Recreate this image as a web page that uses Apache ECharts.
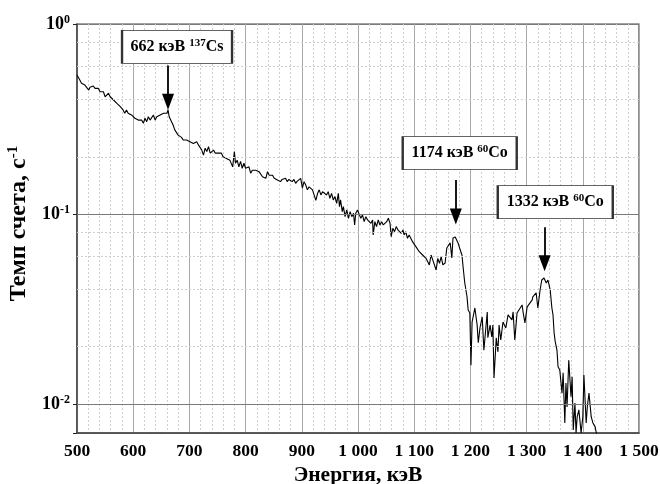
<!DOCTYPE html>
<html><head><meta charset="utf-8">
<script src="https://cdn.jsdelivr.net/npm/echarts@6/dist/echarts.min.js"></script>
<style>html,body{margin:0;padding:0;background:#fff}#c{width:660px;height:484px}</style>
</head><body><div id="c"></div>
<script>
// Energy, keV
const energy = [500,505,508,511,514,517,521,523,526,529,532,535,538,541,544,547,550,553,556,559,562,565,568,571,574,577,579,582,585,588,591,594,597,600,
603,606,609,612,615,618,621,624,627,630,633,636,639,642,645,648,651,654,657,660,662,664,667,671,674,677,680,683,686,689,692,695,698,701,704,707,
710,713,716,719,722,725,728,731,734,737,740,743,746,749,752,754,757,760,763,766,769,772,775,777,780,782,785,788,791,794,797,800,803,806,809,812,815,
818,821,824,827,830,833,836,839,842,845,848,851,853.5,856.5,859,862,865,868,871,874,877,880,883,886,889,892,895,898,901,904,907,910,913,916,919,922,
925,928,931,934,937,940,
944,947,950,953,956,959,962,965,967,969,972,974,977,980,983,986,989,992,994,996,999,1002,1005,1008,1011,1014,1017,1020,1023,1026,1027,1030,1033,1036,
1039,1042,1045,1048,1051,1054,1057,1059,1062,1065,1068,1071,1074,1077,1080,1082,1085,1088,1091,1094,1097,1100,1103,1106,1109,1112,1115,1118,1121,1124,
1127,1130,1133,1136,1139,1142,1145,1148,1151,1155,
1158,1164,1167,1169,1173,1178,1182,1185,1187,1190,1194,1196,1199,1201,1203,1208,1212,1214,1217,1221,1224,1230,1231,1235,
1238,1240,1242,1246,1249,1251,1254,1258,1263,1267,1270,1274,1276,1279,1283,1286,1292,1294,1297,1301,1304,1310,1311,1317,
1320,1324,1327,1331,1335,1338,1342,1345,1347,1349,1351,1354,1356,1359,1363,1365,1368,1370,1372,1375,1379,1381,1383,1386,
1388,1390,1393,1397,1400,1402,1406,1408,1411,1415,1418,1422,1425];
// Count rate, 1/s
const rate = [0.539,0.507,0.487,0.497,0.477,0.483,0.449,0.464,0.458,0.472,0.458,0.449,0.458,0.440,0.432,0.440,0.414,0.423,0.432,0.414,0.423,0.398,0.406,0.382,0.390,0.367,0.375,0.353,0.339,0.353,0.339,0.346,0.332,0.339,
0.319,0.325,0.312,0.319,0.312,0.300,0.319,0.306,0.325,0.312,0.319,0.332,0.312,0.325,0.319,0.332,0.325,0.339,0.332,0.339,0.353,0.325,0.319,0.294,0.277,0.271,0.260,0.255,0.253,0.245,0.250,0.245,0.247,0.240,0.245,0.235,
0.235,0.240,0.231,0.235,0.217,0.204,0.222,0.213,0.226,0.209,0.213,0.217,0.209,0.213,0.209,0.204,0.209,0.200,0.204,0.196,0.200,0.192,0.196,0.177,0.213,0.185,0.192,0.177,0.189,0.174,0.185,0.174,0.170,0.177,0.164,0.170,0.167,
0.170,0.172,0.167,0.164,0.157,0.160,0.154,0.167,0.160,0.157,0.160,0.154,0.157,0.151,0.154,0.148,0.152,0.151,0.154,0.148,0.152,0.150,0.148,0.152,0.145,0.149,0.146,0.154,0.137,0.148,0.142,0.134,0.139,0.137,0.134,0.131,
0.118,0.128,0.134,0.126,0.131,0.134,
0.1259,0.1311,0.1209,0.1284,0.1185,0.1234,0.1138,0.1284,0.1093,0.1185,0.1029,0.1093,0.0968,0.1050,0.0949,0.1029,0.0968,0.1008,0.0875,0.1008,0.1050,0.1029,0.0949,0.0988,0.0911,0.0968,0.0930,0.0949,0.0893,0.0930,0.0775,0.0911,0.0858,0.0930,
0.0875,0.0911,0.0875,0.0893,0.0911,0.0949,0.0893,0.0760,0.0841,0.0807,0.0858,0.0824,0.0841,0.0791,0.0824,0.0775,0.0807,0.0745,0.0775,0.0760,0.0715,0.0730,0.0673,0.0687,0.0633,0.0646,0.0608,0.0621,0.0584,0.0596,
0.0539,0.0608,0.0573,0.0584,0.0507,0.0584,0.0550,0.0596,0.0539,0.0552,
0.0662,0.0704,0.0587,0.0747,0.0757,0.0704,0.0646,0.0608,0.0526,0.0433,0.0366,0.0312,0.0301,0.0160,0.0270,0.0320,0.0260,0.0210,0.0251,0.0287,0.0192,0.0305,0.0223,0.0260,
0.0225,0.0260,0.0137,0.0223,0.0188,0.0260,0.0217,0.0270,0.0251,0.0294,0.0301,0.0277,0.0305,0.0217,0.0301,0.0305,0.0332,0.0301,0.0267,0.0324,0.0324,0.0353,0.0366,0.0384,
0.0320,0.0398,0.0449,0.0460,0.0433,0.0449,0.0398,0.0320,0.0294,0.0236,0.0212,0.0192,0.0157,0.0151,0.0114,0.0146,0.00794,0.0129,0.00964,0.0170,0.0109,0.0139,0.00730,0.0101,
0.00704,0.00854,0.00930,0.00704,0.00854,0.0142,0.00794,0.00964,0.0114,0.00854,0.00794,0.00757,0.0068];

const xTickValues = [500,600,700,800,900,1000,1100,1200,1300,1400,1500];
const yMajorGrid = [0.01,0.1];
const yMinorGrid = [0.008,0.02,0.04,0.06,0.08,0.2,0.4,0.6,0.8];
// Peak annotations
const peakEnergy = [662,1174,1332];
const peakText = ['662 кэВ','1174 кэВ','1332 кэВ'];
const peakMass = ['137','60','60'];
const peakElem = ['Cs','Co','Co'];

// Layout of annotations (data coordinates)
const boxPos = [[678,0.757],[1181,0.209],[1351,0.1155]];
const boxSize = [[110,33],[114,33],[115,33]];
const arrowFrom = [0.605,0.151,0.085];
const arrowTo = [0.39,0.097,0.055];

const serif = '"Liberation Serif","Times New Roman",serif';
const data = energy.map((e,i)=>[e,rate[i]]);

const chart = echarts.init(document.getElementById('c'));
chart.setOption({
  animation:false,
  backgroundColor:'#fff',
  grid:{left:77,right:21,top:24,bottom:51,containLabel:false,outerBoundsMode:'none',show:true,borderColor:'#444',borderWidth:1.2,backgroundColor:'transparent'},
  xAxis:{
    type:'value',min:500,max:1500,interval:100,
    axisLine:{show:true,lineStyle:{color:'#444',width:1.5}},
    axisTick:{show:false},
    axisLabel:{margin:9,color:'#000',fontFamily:serif,fontWeight:'bold',fontSize:17.5,
      formatter:v=> xTickValues.indexOf(v)<0 ? '' : (v>=1000 ? Math.floor(v/1000)+' '+String(v%1000).padStart(3,'0') : String(v))},
    splitLine:{show:true,lineStyle:{color:'#a8a8a8',width:1}},
    minorTick:{show:false,splitNumber:5},
    minorSplitLine:{show:true,lineStyle:{color:'#cfcfcf',width:1,type:[2,2]}},
    name:'Энергия, кэВ',nameLocation:'middle',nameGap:27,
    nameTextStyle:{color:'#000',fontFamily:serif,fontWeight:'bold',fontSize:21.5}
  },
  yAxis:{
    type:'log',logBase:10,min:0.00703,max:1,
    axisLine:{show:true,lineStyle:{color:'#444',width:1.5}},
    axisTick:{show:true,inside:false,length:4,lineStyle:{color:'#222'}},
    axisLabel:{margin:7,color:'#000',
      formatter:v=>{const l=Math.log10(v);const r=Math.round(l);if(Math.abs(l-r)>1e-6)return '';return '{b|10}{s|'+(r===0?'0':String(r))+'}';},
      rich:{b:{fontFamily:serif,fontWeight:'bold',fontSize:18,color:'#000',lineHeight:21},
            s:{fontFamily:serif,fontWeight:'bold',fontSize:12,color:'#000',verticalAlign:'top',lineHeight:12}}},
    splitLine:{show:true,lineStyle:{color:'#7a7a7a',width:1}},
    name:'{n|Темп счета, с}{s|-1}',nameLocation:'middle',nameGap:43,
    nameTextStyle:{padding:[0,0,0,10],rich:{n:{fontFamily:serif,fontWeight:'bold',fontSize:24,color:'#000',lineHeight:26},
      s:{fontFamily:serif,fontWeight:'bold',fontSize:15,color:'#000',verticalAlign:'top',lineHeight:14}}}
  },
  series:[
    {type:'line',data:[],z:1,silent:true,
     markLine:{silent:true,symbol:['none','none'],animation:false,label:{show:false},
       lineStyle:{color:'#cfcfcf',width:1,type:[2,2]},
       data:yMinorGrid.map(v=>({yAxis:v})).concat(yMajorGrid.map(v=>({yAxis:v,lineStyle:{color:'#7a7a7a',width:1,type:'solid'}})))}},
    {type:'line',data:data,z:3,showSymbol:false,symbol:'none',clip:true,
     lineStyle:{color:'#000',width:1.1},
     markLine:{silent:true,animation:false,label:{show:false},symbol:['none','triangle'],
       lineStyle:{color:'#000',width:1.8,type:'solid'},
       data:peakEnergy.map((e,i)=>[{coord:[e,arrowFrom[i]],symbol:'none'},{coord:[e,arrowTo[i]],symbol:'triangle',symbolSize:[12,16],itemStyle:{color:'#000'}}])},
     markPoint:{silent:true,animation:false,
       data:peakEnergy.map((e,i)=>({coord:boxPos[i],symbol:'rect',symbolSize:boxSize[i],
         itemStyle:{color:'#fff',borderColor:'#333',borderWidth:1.3},
         label:{show:true,position:'inside',formatter:'{a|'+peakText[i]+' }{s|'+peakMass[i]+'}{a|'+peakElem[i]+'}',
           rich:{a:{fontFamily:serif,fontWeight:'bold',fontSize:16,color:'#000',lineHeight:19},
                 s:{fontFamily:serif,fontWeight:'bold',fontSize:11,color:'#000',verticalAlign:'top',lineHeight:11}}}}))}
    }
  ]
});
</script></body></html>
